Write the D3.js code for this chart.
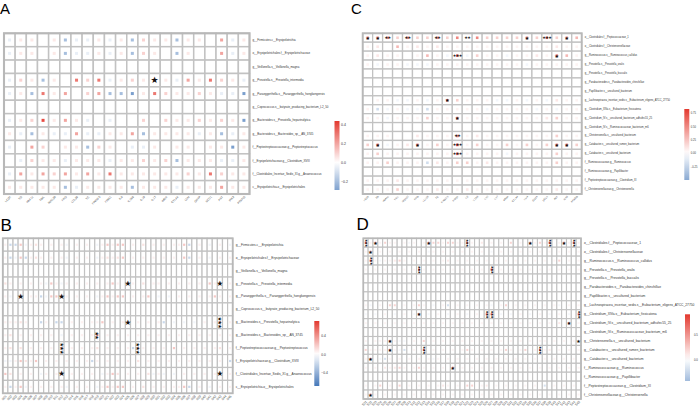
<!DOCTYPE html>
<html>
<head>
<meta charset="utf-8">
<script src="https://cdn.jsdelivr.net/npm/d3@7"></script>
<style>
  body { margin: 0; background: #fff; }
  svg { display: block; font-family: "Liberation Sans", Arial, sans-serif; }
</style>
</head>
<body>
<script>
// ---- row labels (taxa) ----
var taxaAB = [
  "g__Firmicutes.c__Erysipelotrichia",
  "o__Erysipelotrichales.f__Erysipelotrichaceae",
  "g__Veillonella.s__Veillonella_magna",
  "g__Prevotella.s__Prevotella_intermedia",
  "g__Paraeggerthella.s__Paraeggerthella_hongkongensis",
  "g__Coprococcus.s__butyrate_producing_bacterium_L2_50",
  "g__Bacteroides.s__Prevotella_heparinolytica",
  "g__Bacteroides.s__Bacteroides_sp__AN_3745",
  "f__Peptostreptococcaceae.g__Peptostreptococcus",
  "f__Erysipelotrichaceae.g__Clostridium_XVIII",
  "f__Clostridiales_Incertae_Sedis_XI.g__Anaerococcus",
  "c__Erysipelotrichia.o__Erysipelotrichales"
];
var taxaCD = [
  "o__Clostridiales.f__Peptococcaceae_1",
  "o__Clostridiales.f__Christensenellaceae",
  "g__Ruminococcus.s__Ruminococcus_callidus",
  "g__Prevotella.s__Prevotella_oralis",
  "g__Prevotella.s__Prevotella_buccalis",
  "g__Parabacteroides.s__Parabacteroides_chinchillae",
  "g__Papillibacter.s__uncultured_bacterium",
  "g__Lachnospiracea_incertae_sedis.s__Eubacterium_eligens_ATCC_27750",
  "g__Clostridium_XlVa.s__Eubacterium_fissicatena",
  "g__Clostridium_IV.s__uncultured_bacterium_adhufec55_25",
  "g__Clostridium_IV.s__Ruminococcaceae_bacterium_m6",
  "g__Christensenella.s__uncultured_bacterium",
  "g__Catabacter.s__uncultured_rumen_bacterium",
  "g__Catabacter.s__uncultured_bacterium",
  "f__Ruminococcaceae.g__Ruminococcus",
  "f__Ruminococcaceae.g__Papillibacter",
  "f__Peptostreptococcaceae.g__Clostridium_XI",
  "f__Christensenellaceae.g__Christensenella"
];

// ---- column labels ----
var varsAC = ["LC2R","TG","HbA1c","TBIL","INS120","FPG","LDL28","TC","FINS0.5","FINS1","IL6",
  "IL1B8","IL10","IL17","adipo","CTLA4","LDH","GSTP","SCD1","AST","IKK3","PPARG"];
var varsBD = ["S01","S02","S03","S04","S05","S06","S07","S08","S09","S10","S11","S12","S13","S14","S15",
  "S16","S17","S18","S19","S20","S21","S22","S23","S24","S25","S26","S27","S28","S29","S30",
  "S31","S32","S33","S34","S35","S36","S37","S38","S39","S40","S41","S42","S43","S44","S45"];

// ---- correlation values, one char per cell ----
// "." none, "+"/"-" faint, 1..8 = +0.1..+0.8, a..d = -0.1..-0.4
var code = {".": null, "+": 0.05, "-": -0.05,
  "1": 0.1, "2": 0.2, "3": 0.3, "4": 0.4, "5": 0.5, "6": 0.6, "7": 0.7, "8": 0.8,
  "a": -0.1, "b": -0.2, "c": -0.3, "d": -0.4};

var corrA = [
  "-++.+b--+-+b1++b++.2-+",
  "-++.+b--+-+b1+.b+..2-+",
  "......................",
  "-1+b+.313-+1+2+-2+31+-",
  "-+b3+2.12bbc+31++1+--c",
  "......................",
  "-+14+2+-.-..1.1++1+1+c",
  "+-b+--2--++2b++++-+b-+",
  "-.21.++b1+.--+.++.++c+",
  ".-1++-+++-++1+1b+++--+",
  "-2+212+2+3++++++1+31++",
  "+++++b-++++b+++-+++2++"
];
var corrB = [
  "+bb2-+1+.+.+-.+.+.-+2+22.+.1.+.+.++2b.+.-.+.-",
  "+b-2b+1+.+.+-.+.+.-+1+12.+.+.+.+.+.2b.+.-.+.+",
  ".............................................",
  "1+.+.+.+-2+-+.+.+.+.+2+.3+.1.++.+.+.+.+.2+3.+",
  "+-.3.++b-223+.+.+.-+2+22.+.+2.-.-.+.+.+.+2+.+",
  ".............................................",
  "+++1+..b+.bb.+.+.++2.+.+2.+.+.+b.-.-.-.+.+4.+",
  "+1.+.+.+.+.-.+.+.+4.+.+.+.+.+.+.+.+.+.+.+.+.+",
  "+1.1.+.+.+.3.+.+.+1.+.+.+b3+.+.+.2.+.+.+.+1.+",
  "--+21+2.+.+.+.+.+b+.+.+.+.1.+.+.+.+.+.+.+.+.b",
  "21.+.+.-+.+3.+.+.+.-+21.+.+.1-+-.-.+.+.+.+3.+",
  "+b+2-+.+.+.+-.+.+.-+2+22.+.1.+.+.++2b.+.-.+.+"
];
var corrC = [
  "4452522525+52222426243",
  "+1.3+1+1+++++++++++1++",
  "+1++.+3+-6-2++-++1+53+",
  "+-++---+++++++++-+++++",
  "......................",
  "......................",
  "......................",
  ".++--+-+52+++--+-+-1++",
  "+b-+--b+++++-++++-+-++",
  "++-+++2++5++++++++12++",
  "......................",
  "+++..1+++5+1+++++++2++",
  "25-+15+2+7+2++2+2+2552",
  "+2+++++++6++++-++++2++",
  "++2+++b1+22+1++++++2++",
  "......................",
  "+++1++++++++++++++++++",
  "+++2+++1++1++++++++1++"
];
var corrD = [
  "7+4+2++.+-+.+422+22++7+.1.+.+.2.+.4+2+7.+4+7+",
  "+4.+.+.+.+.+.-+.+.+.+.+.+.-.+.+.+.+.+.+.+.+.+",
  "+7+-++12+.+.+.+.+1.+.+.+.+.+.+.+.+.+.+.+2.+.+",
  "+.+.+.+.+.+7+.+.+.+.+.+.+.8.+.+.+.+.+.+.+.+.+",
  ".............................................",
  ".............................................",
  ".............................................",
  "+-.+.22.+.+2+.-.+b.+.+.+.+-.+2.+.+.+.+.+-.+.+",
  "-.-.+.-.+.-4.-.+.-.+.-.+.66.-.-.+.-.+.-.+.-.6",
  "+.+.+.+.+.+.+.+.+.+.+.+.+.+.+.+.+.+.+.+.1.4.+",
  ".............................................",
  "+.+++4+--.+.2.+.+.+.+.+.+.+.+.+.+.+.++.+.+.+.4",
  "2++++4+-b.+.7.+.+.+.+2+.+.+.+2+.+2.+7+1.+.+.+",
  "+5.-b+.+.+.+.+-+.+.+.+.+.+.+.+.+.+.+.+.+.+.+.",
  "+.+.1+12+.+2+.+.+.5.+.+.+.+.+.+.+.+.+.+.+.+.+",
  ".............................................",
  "+.+2.+.2.+.+.+.+1+.+.22.+1.+.+.+.+.+.b.+.+.+.",
  "+4+.+.+.+.+.+.+.+.+.+.+.+.+.+.+.+.+.+.+.+.+.+"
];

// ---- significance marks: [row, col, number of stars] ----
var starsA = [[3, 13, 1]];
var starsB = [[3,24,1],[3,42,1],[4,3,1],[4,11,1],[6,24,1],[6,42,3],[7,18,2],
  [8,11,3],[8,26,3],[10,11,1],[10,42,1]];
var starsC = [[0,0,1],[0,1,1],[0,2,2],[0,4,2],[0,7,2],[0,10,2],[0,16,1],[0,18,3],[0,20,1],
  [2,9,3],[2,19,1],[7,8,1],[9,9,1],[11,9,2],
  [12,1,1],[12,5,1],[12,9,3],[12,19,1],[12,20,1],[13,9,3]];
var starsD = [[0,0,3],[0,2,1],[0,13,1],[0,21,3],[0,34,1],[0,38,3],[0,41,1],[0,43,3],
  [1,1,1],[2,1,3],[3,11,3],[3,26,3],
  [8,11,1],[8,25,3],[8,26,3],[8,44,3],[9,42,1],
  [11,5,1],[11,44,1],[12,5,1],[12,12,3],[12,36,3],[13,1,1],[14,18,1],[17,1,1]];

// ---- colour bar ticks ----
var ticksA = [0.4, 0.2, 0.0, -0.2];
var ticksB = [0.4, 0.0, -0.4];
var ticksC = [0.75, 0.50, 0.25, 0.00, -0.25];
var ticksD = [0.5, 0.0];

var svg = d3.select("body").append("svg")
  .attr("width", 699)
  .attr("height", 410);

var RED = "#E3392F", BLUE = "#3D72B6";

function drawPanel(p) {
  var g = svg.append("g");
  var nr = p.rows.length, nc = p.cols.length;

  var x = d3.scaleBand().domain(d3.range(nc)).range([p.x0, p.x1]);
  var y = d3.scaleBand().domain(d3.range(nr)).range([p.y0, p.y1]);
  var m = Math.max(Math.abs(p.domain[0]), Math.abs(p.domain[1]));
  var color = d3.scaleLinear().domain([-m, 0, m]).range([BLUE, "#ffffff", RED]);

  // flatten the coded strings into cells
  var cells = [];
  p.values.forEach(function(s, r) {
    for (var c = 0; c < nc; c++) {
      var v = code[s.charAt(c)];
      cells.push({r: r, c: c, v: v === undefined ? null : v});
    }
  });

  g.selectAll(".cell").data(cells).enter().append("rect")
    .attr("x", d => x(d.c))
    .attr("y", d => y(d.r))
    .attr("width", x.bandwidth())
    .attr("height", y.bandwidth())
    .attr("fill", "#fff")
    .attr("stroke", "#c2c2c2")
    .attr("stroke-width", p.line);

  g.append("rect")
    .attr("x", p.x0).attr("y", p.y0)
    .attr("width", p.x1 - p.x0).attr("height", p.y1 - p.y0)
    .attr("fill", "none").attr("stroke", "#b8b8b8").attr("stroke-width", p.line + 0.6);

  g.selectAll(".dot").data(cells.filter(d => d.v !== null)).enter().append("rect")
    .attr("x", d => x(d.c) + x.bandwidth() / 2 - p.dot / 2)
    .attr("y", d => y(d.r) + y.bandwidth() / 2 - p.dot / 2)
    .attr("width", p.dot)
    .attr("height", p.dot)
    .attr("fill", d => color(d.v));

  // stars: one text per cell, stacked sideways or turned upright
  g.selectAll(".star").data(p.stars).enter().append("text")
    .attr("transform", function(s) {
      var cx = x(s[1]) + x.bandwidth() / 2, cyy = y(s[0]) + y.bandwidth() / 2;
      return "translate(" + cx + "," + cyy + ")" + (p.stack === "v" && s[2] > 1 ? " rotate(90)" : "");
    })
    .attr("text-anchor", "middle")
    .attr("dominant-baseline", "central")
    .style("font-family", "DejaVu Sans")
    .style("font-size", s => (s[2] === 1 ? p.star1 : p.starN) + "px")
    .style("letter-spacing", s => (s[2] === 1 ? 0 : p.ls) + "px")
    .attr("fill", "#111")
    .text(s => "\u2605".repeat(s[2]));

  // row labels
  g.selectAll(".rowlab").data(p.rows).enter().append("text")
    .attr("x", p.x1 + 3)
    .attr("y", (d, i) => y(i) + y.bandwidth() / 2)
    .attr("dominant-baseline", "central")
    .style("font-size", p.font + "px")
    .attr("fill", "#333")
    .text(d => d);

  // column labels
  g.selectAll(".collab").data(p.cols).enter().append("text")
    .attr("transform", (d, i) => "translate(" + (x(i) + x.bandwidth() / 2 + 1) + "," + (p.y1 + 2.5) + ") rotate(-45)")
    .attr("text-anchor", "end")
    .attr("dominant-baseline", "central")
    .style("font-size", p.font + "px")
    .attr("fill", "#444")
    .text(d => d);

  // colour bar
  var gid = "grad" + p.name;
  var grad = svg.append("defs").append("linearGradient")
    .attr("id", gid).attr("x1", 0).attr("y1", 1).attr("x2", 0).attr("y2", 0);
  d3.range(0, 1.0001, 0.1).forEach(function(t) {
    var v = p.domain[0] + t * (p.domain[1] - p.domain[0]);
    grad.append("stop").attr("offset", t).attr("stop-color", color(v));
  });
  var cy = d3.scaleLinear().domain(p.domain).range([p.barY1, p.barY0]);
  g.append("rect")
    .attr("x", p.barX).attr("y", p.barY0)
    .attr("width", 5).attr("height", p.barY1 - p.barY0)
    .attr("fill", "url(#" + gid + ")");
  var axis = d3.axisRight(cy).tickValues(p.ticks).tickSize(0).tickPadding(p.tickPad)
    .tickFormat(d3.format(p.fmt));
  var ag = g.append("g").attr("transform", "translate(" + (p.barX + 5) + ",0)").call(axis);
  ag.select(".domain").remove();
  ag.selectAll("text").style("font-size", p.tickFont + "px").attr("fill", "#333");

  // panel letter
  svg.append("text")
    .attr("x", p.lx).attr("y", p.ly)
    .style("font-size", p.lfs + "px")
    .attr("fill", "#000")
    .text(p.name);
}

drawPanel({name: "A", rows: taxaAB, cols: varsAC, values: corrA, stars: starsA,
  x0: 4, x1: 249.5, y0: 33.3, y1: 194, line: 1.5, dot: 3, font: 2.9,
  stack: "h", star1: 9, starN: 5, ls: -0.5,
  domain: [-0.29, 0.44], ticks: ticksA, fmt: ".1f", barX: 334.5, barY0: 121, barY1: 190,
  tickPad: 1.5, tickFont: 3.5, lx: 0, ly: 13.5, lfs: 15});

drawPanel({name: "B", rows: taxaAB, cols: varsBD, values: corrB, stars: starsB,
  x0: 2.8, x1: 232.7, y0: 238.3, y1: 393.3, line: 1.2, dot: 2.2, font: 3.2,
  stack: "v", star1: 7.5, starN: 5.2, ls: -0.9,
  domain: [-0.69, 0.72], ticks: ticksB, fmt: ".1f", barX: 314.3, barY0: 321, barY1: 386,
  tickPad: 2, tickFont: 3.3, lx: 0.5, ly: 231, lfs: 17});

drawPanel({name: "C", rows: taxaCD, cols: varsAC, values: corrC, stars: starsC,
  x0: 362.7, x1: 581.7, y0: 33.3, y1: 194, line: 1.3, dot: 2.6, font: 2.55,
  stack: "h", star1: 5, starN: 4, ls: -0.6,
  domain: [-0.5, 0.82], ticks: ticksC, fmt: ".2f", barX: 684.3, barY0: 109, barY1: 180,
  tickPad: 1.5, tickFont: 2.6, lx: 351, ly: 13.5, lfs: 15});

drawPanel({name: "D", rows: taxaCD, cols: varsBD, values: corrD, stars: starsD,
  x0: 363.3, x1: 581, y0: 238.3, y1: 399, line: 1.1, dot: 2, font: 3.3,
  stack: "v", star1: 5, starN: 3.6, ls: -0.7,
  domain: [-0.45, 0.93], ticks: ticksD, fmt: ".1f", barX: 685, barY0: 314.3, barY1: 381,
  tickPad: 4, tickFont: 2.8, lx: 356.5, ly: 230, lfs: 17});
</script>
</body>
</html>
